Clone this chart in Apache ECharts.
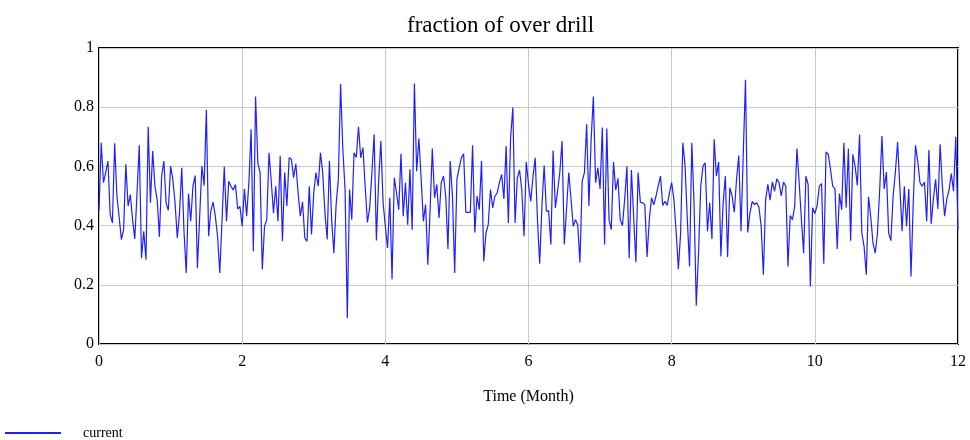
<!DOCTYPE html>
<html>
<head>
<meta charset="utf-8">
<title>fraction of over drill</title>
<script src="https://cdn.jsdelivr.net/npm/echarts@6/dist/echarts.min.js"></script>
<style>
  html, body { margin: 0; padding: 0; background: #ffffff; }
  #chart { width: 970px; height: 440px; }
</style>
</head>
<body>
<div id="chart"></div>
<script>
// Simulation output, one value per time step (TIME STEP = 1/32 month), 0..12 months
const TIME_STEP = 1 / 32;

const currentQ1 = [ // steps 0-95
  0.45, 0.68, 0.545, 0.58, 0.618, 0.437, 0.409, 0.678, 0.50, 0.43, 0.353, 0.386, 0.607, 0.466, 0.505, 0.42,
  0.355, 0.51, 0.671, 0.29, 0.381, 0.285, 0.734, 0.477, 0.652, 0.533, 0.488, 0.362, 0.567, 0.618, 0.477, 0.452,
  0.601, 0.556, 0.477, 0.358, 0.443, 0.595, 0.38, 0.24, 0.508, 0.415, 0.533, 0.569, 0.256, 0.43, 0.601, 0.535,
  0.791, 0.364, 0.45, 0.479, 0.432, 0.364, 0.24, 0.42, 0.599, 0.415, 0.55, 0.533, 0.52, 0.539, 0.456, 0.465,
  0.398, 0.524, 0.432, 0.545, 0.725, 0.313, 0.836, 0.612, 0.579, 0.252, 0.398, 0.42, 0.646, 0.55, 0.443, 0.533,
  0.415, 0.635, 0.347, 0.579, 0.466, 0.629, 0.624, 0.562, 0.609, 0.511, 0.432, 0.48, 0.358, 0.347, 0.533, 0.37
];
const currentQ2 = [ // steps 96-191
  0.511, 0.579, 0.533, 0.646, 0.579, 0.443, 0.353, 0.618, 0.42, 0.307, 0.471, 0.556, 0.878, 0.658, 0.522, 0.087,
  0.522, 0.42, 0.646, 0.63, 0.734, 0.629, 0.663, 0.53, 0.411, 0.46, 0.579, 0.708, 0.35, 0.55, 0.686, 0.477,
  0.398, 0.324, 0.494, 0.219, 0.562, 0.511, 0.454, 0.643, 0.432, 0.545, 0.403, 0.59, 0.386, 0.88, 0.584, 0.694,
  0.56, 0.415, 0.471, 0.268, 0.45, 0.66, 0.494, 0.539, 0.426, 0.545, 0.567, 0.50, 0.321, 0.618, 0.50, 0.24,
  0.556, 0.595, 0.629, 0.643, 0.445, 0.445, 0.445, 0.671, 0.377, 0.50, 0.454, 0.618, 0.279, 0.375, 0.403, 0.522,
  0.46, 0.50, 0.51, 0.545, 0.573, 0.49, 0.669, 0.409, 0.697, 0.799, 0.409, 0.56, 0.588, 0.52, 0.364, 0.615
];
const currentQ3 = [ // steps 192-287
  0.54, 0.482, 0.566, 0.629, 0.42, 0.271, 0.466, 0.603, 0.449, 0.45, 0.336, 0.654, 0.46, 0.516, 0.58, 0.686,
  0.336, 0.455, 0.579, 0.49, 0.398, 0.42, 0.403, 0.275, 0.55, 0.579, 0.742, 0.466, 0.69, 0.836, 0.545, 0.595,
  0.524, 0.731, 0.336, 0.728, 0.42, 0.386, 0.615, 0.52, 0.56, 0.42, 0.40, 0.49, 0.60, 0.29, 0.588, 0.43,
  0.276, 0.579, 0.479, 0.477, 0.47, 0.294, 0.42, 0.494, 0.47, 0.50, 0.533, 0.567, 0.468, 0.482, 0.468, 0.51,
  0.545, 0.488, 0.38, 0.253, 0.375, 0.68, 0.601, 0.42, 0.262, 0.68, 0.477, 0.129, 0.307, 0.533, 0.601, 0.612,
  0.381, 0.477, 0.355, 0.692, 0.567, 0.615, 0.296, 0.475, 0.567, 0.294, 0.528, 0.50, 0.445, 0.556, 0.637, 0.381
];
const currentQ4 = [ // steps 288-384
  0.64, 0.893, 0.377, 0.443, 0.482, 0.471, 0.477, 0.463, 0.398, 0.234, 0.488, 0.539, 0.486, 0.547, 0.516, 0.558,
  0.545, 0.50, 0.547, 0.533, 0.262, 0.434, 0.42, 0.466, 0.66, 0.545, 0.42, 0.307, 0.567, 0.539, 0.194, 0.46,
  0.441, 0.466, 0.533, 0.542, 0.271, 0.649, 0.641, 0.59, 0.533, 0.524, 0.321, 0.508, 0.454, 0.68, 0.46, 0.66,
  0.349, 0.641, 0.601, 0.536, 0.708, 0.375, 0.33, 0.234, 0.497, 0.43, 0.341, 0.307, 0.375, 0.522, 0.703, 0.524,
  0.581, 0.375, 0.349, 0.50, 0.58, 0.682, 0.53, 0.381, 0.533, 0.398, 0.524, 0.228, 0.48, 0.671, 0.618, 0.545,
  0.533, 0.547, 0.415, 0.655, 0.406, 0.49, 0.556, 0.456, 0.675, 0.533, 0.432, 0.49, 0.52, 0.576, 0.516, 0.70,
  0.386
];

const xTicks = [0, 2, 4, 6, 8, 10, 12];
const yTicks = [0, 0.2, 0.4, 0.6, 0.8, 1];

const currentValues = currentQ1.concat(currentQ2, currentQ3, currentQ4);
const currentData = currentValues.map((v, i) => [i * TIME_STEP, v]);

const serif = '"Liberation Serif", "DejaVu Serif", serif';
const chart = echarts.init(document.getElementById('chart'), null, { renderer: 'canvas' });

chart.setOption({
  animation: false,
  backgroundColor: '#ffffff',
  title: {
    text: 'fraction of over drill',
    left: 402,
    top: 9,
    textStyle: { fontFamily: serif, fontSize: 23, fontWeight: 'normal', color: '#000000' }
  },
  legend: {
    left: 0,
    top: 421,
    icon: 'rect',
    itemWidth: 56,
    itemHeight: 2,
    data: ['current'],
    textStyle: { fontFamily: serif, fontSize: 14, color: '#000000', padding: [0, 0, 0, 17] }
  },
  grid: {
    left: 99,
    right: 12,
    top: 48,
    bottom: 96,
    show: true,
    borderColor: '#000000',
    borderWidth: 2,
    backgroundColor: 'transparent'
  },
  xAxis: {
    type: 'value',
    min: xTicks[0],
    max: xTicks[xTicks.length - 1],
    interval: 2,
    name: 'Time (Month)',
    nameLocation: 'middle',
    nameGap: 45,
    nameTextStyle: { fontFamily: serif, fontSize: 16, color: '#000000' },
    axisLine: { show: false },
    axisTick: { show: false },
    axisLabel: { fontFamily: serif, fontSize: 16, color: '#000000', margin: 10 },
    splitLine: { show: true, lineStyle: { color: '#c8c8c8', width: 1 } }
  },
  yAxis: {
    type: 'value',
    min: yTicks[0],
    max: yTicks[yTicks.length - 1],
    interval: 0.2,
    axisLine: { show: false },
    axisTick: { show: false },
    axisLabel: { fontFamily: serif, fontSize: 16, color: '#000000', margin: 5 },
    splitLine: { show: true, lineStyle: { color: '#c8c8c8', width: 1 } }
  },
  series: [{
    name: 'current',
    type: 'line',
    data: currentData,
    showSymbol: false,
    symbol: 'none',
    lineStyle: { color: '#1f1fff', width: 1.2 },
    itemStyle: { color: '#1f1fff' },
    z: 3
  }]
});
</script>
</body>
</html>
